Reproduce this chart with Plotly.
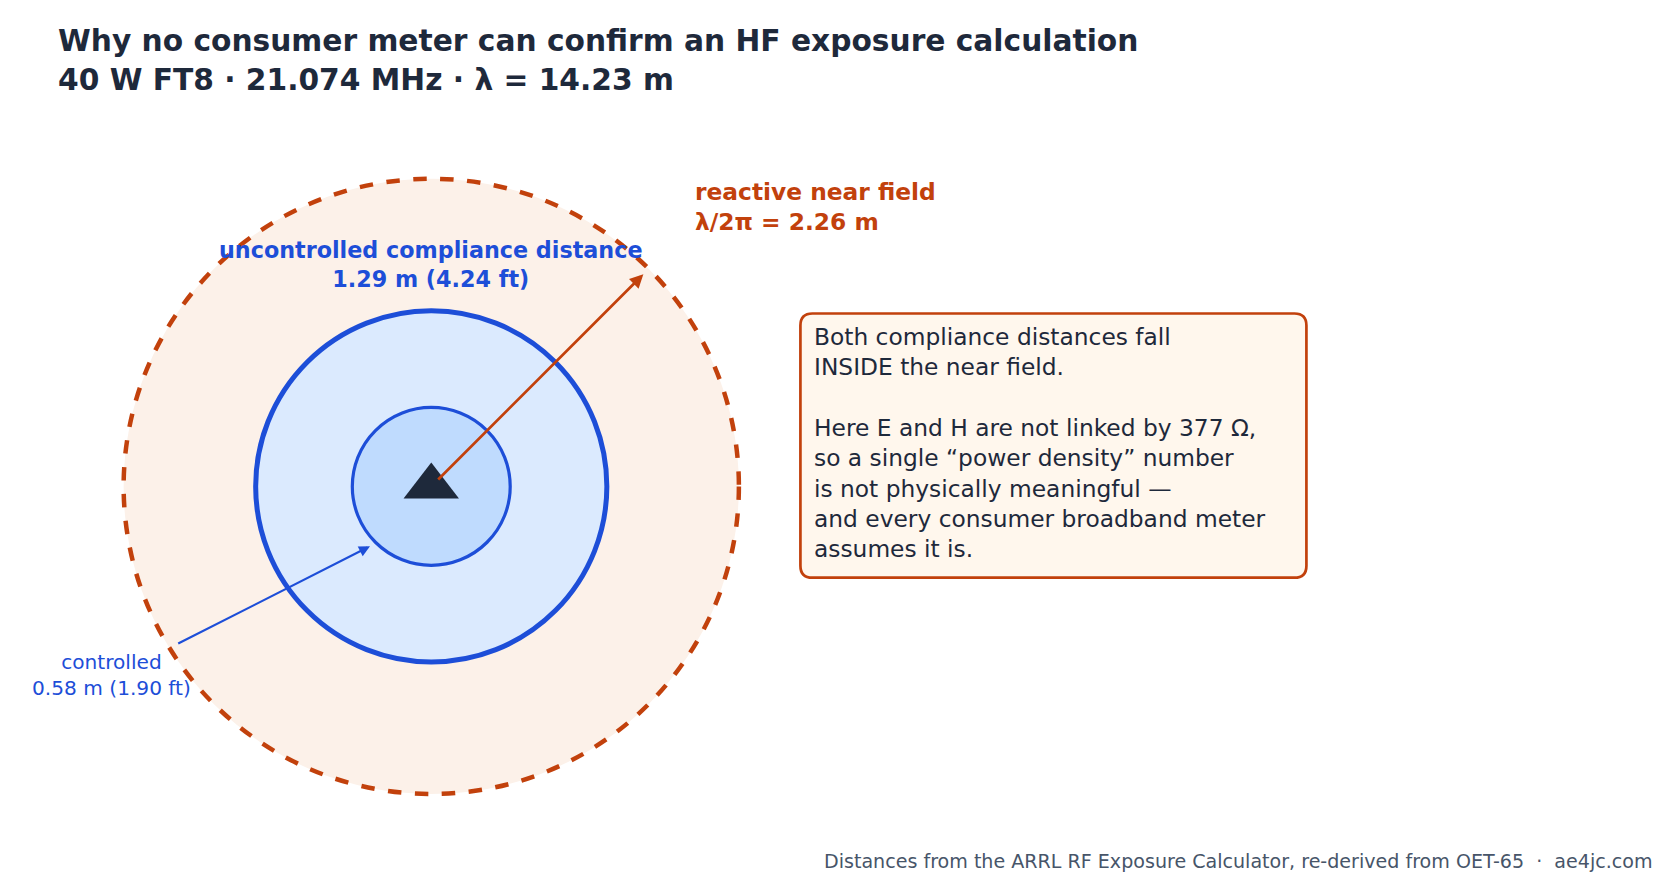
import plotly.graph_objects as go
import math

W, H = 1669, 886
near_field_m = 2.26
uncontrolled_m = 1.29
controlled_m = 0.58
title_lines = ["Why no consumer meter can confirm an HF exposure calculation",
               "40 W FT8 · 21.074 MHz · λ = 14.23 m"]
box_lines = ["Both compliance distances fall", "INSIDE the near field.", "",
             "Here E and H are not linked by 377 Ω,",
             "so a single “power density” number",
             "is not physically meaningful —",
             "and every consumer broadband meter",
             "assumes it is."]

K = 1.0608  # measured-to-real pixel factor
S = 290 * K / near_field_m  # px per metre
cx, cy = 399 * K, 451 * K
xr = [-cx / S, (W - cx) / S]
yr = [-(H - cy) / S, cy / S]
F = "DejaVu Sans"
ORANGE, BLUE, DARK = "#c2410c", "#1d4ed8", "#1e293b"

fig = go.Figure()
def circ(r, fill, line, w, dash="solid"):
    fig.add_shape(type="circle", x0=-r, y0=-r, x1=r, y1=r, xref="x", yref="y",
                  fillcolor=fill, line=dict(color=line, width=w, dash=dash), layer="below")
circ(near_field_m, "#fcf1e9", ORANGE, 4.5, "dash")
circ(uncontrolled_m, "#dbeafe", BLUE, 5)
circ(controlled_m, "#bfdbfe", BLUE, 3.2)

fig.add_trace(go.Scatter(x=[0], y=[0.0], mode="markers",
                         marker=dict(symbol="triangle-up", size=48, color=DARK), hoverinfo="skip"))

a = math.radians(45); rr = near_field_m * 0.975
fig.add_annotation(x=rr*math.cos(a), y=rr*math.sin(a), ax=0.04, ay=0.04, xref="x", yref="y",
                   axref="x", ayref="y", showarrow=True, arrowhead=2, arrowsize=1, arrowwidth=2.7,
                   arrowcolor=ORANGE, text="")
fig.add_annotation(x=-0.45, y=-0.44, ax=-1.87, ay=-1.16, xref="x", yref="y", axref="x", ayref="y",
                   showarrow=True, arrowhead=2, arrowsize=1, arrowwidth=2.2, arrowcolor=BLUE, text="")

def txt(px, py, s, size, color, xanchor="left", bold=False, align="left"):
    if bold:
        s = "<br>".join(f"<b>{l}</b>" if l else "" for l in s.split("<br>"))
    fig.add_annotation(x=px * K / W, y=1 - py * K / H, xref="paper", yref="paper", text=s,
                       showarrow=False, xanchor=xanchor, yanchor="top", align=align,
                       font=dict(family=F, size=size * K, color=color))

txt(45, 12, "<br>".join(title_lines), 28, DARK, bold=True)
txt(646, 158, "reactive near field<br>λ/2π = 2.26 m", 22, ORANGE, bold=True)
txt(399, 214, f"uncontrolled compliance distance<br>{uncontrolled_m} m (4.24 ft)", 21, BLUE,
    xanchor="center", bold=True, align="center")
txt(98, 603, f"controlled<br>{controlled_m} m (1.90 ft)", 19, BLUE, xanchor="center", align="center")
txt(758, 295, "<br>".join(box_lines), 22, DARK)
txt(1553, 792, "Distances from the ARRL RF Exposure Calculator, re-derived from OET-65  ·  ae4jc.com",
    18, "#475569", xanchor="right")

x0, x1, y0, y1 = 747 * K / W, 1224 * K / W, 1 - 537 * K / H, 1 - 288 * K / H
rx, ry = 12 / W, 12 / H
path = (f"M{x0+rx},{y0} L{x1-rx},{y0} Q{x1},{y0} {x1},{y0+ry} L{x1},{y1-ry} Q{x1},{y1} {x1-rx},{y1} "
        f"L{x0+rx},{y1} Q{x0},{y1} {x0},{y1-ry} L{x0},{y0+ry} Q{x0},{y0} {x0+rx},{y0} Z")
fig.add_shape(type="path", path=path, xref="paper", yref="paper", fillcolor="#fff7ed",
              line=dict(color=ORANGE, width=2.7), layer="below")

fig.update_layout(width=W, height=H, margin=dict(l=0, r=0, t=0, b=0), showlegend=False,
                  plot_bgcolor="white", paper_bgcolor="white",
                  xaxis=dict(range=xr, visible=False, domain=[0, 1]),
                  yaxis=dict(range=yr, visible=False, domain=[0, 1]))
fig.write_html("out.html")
